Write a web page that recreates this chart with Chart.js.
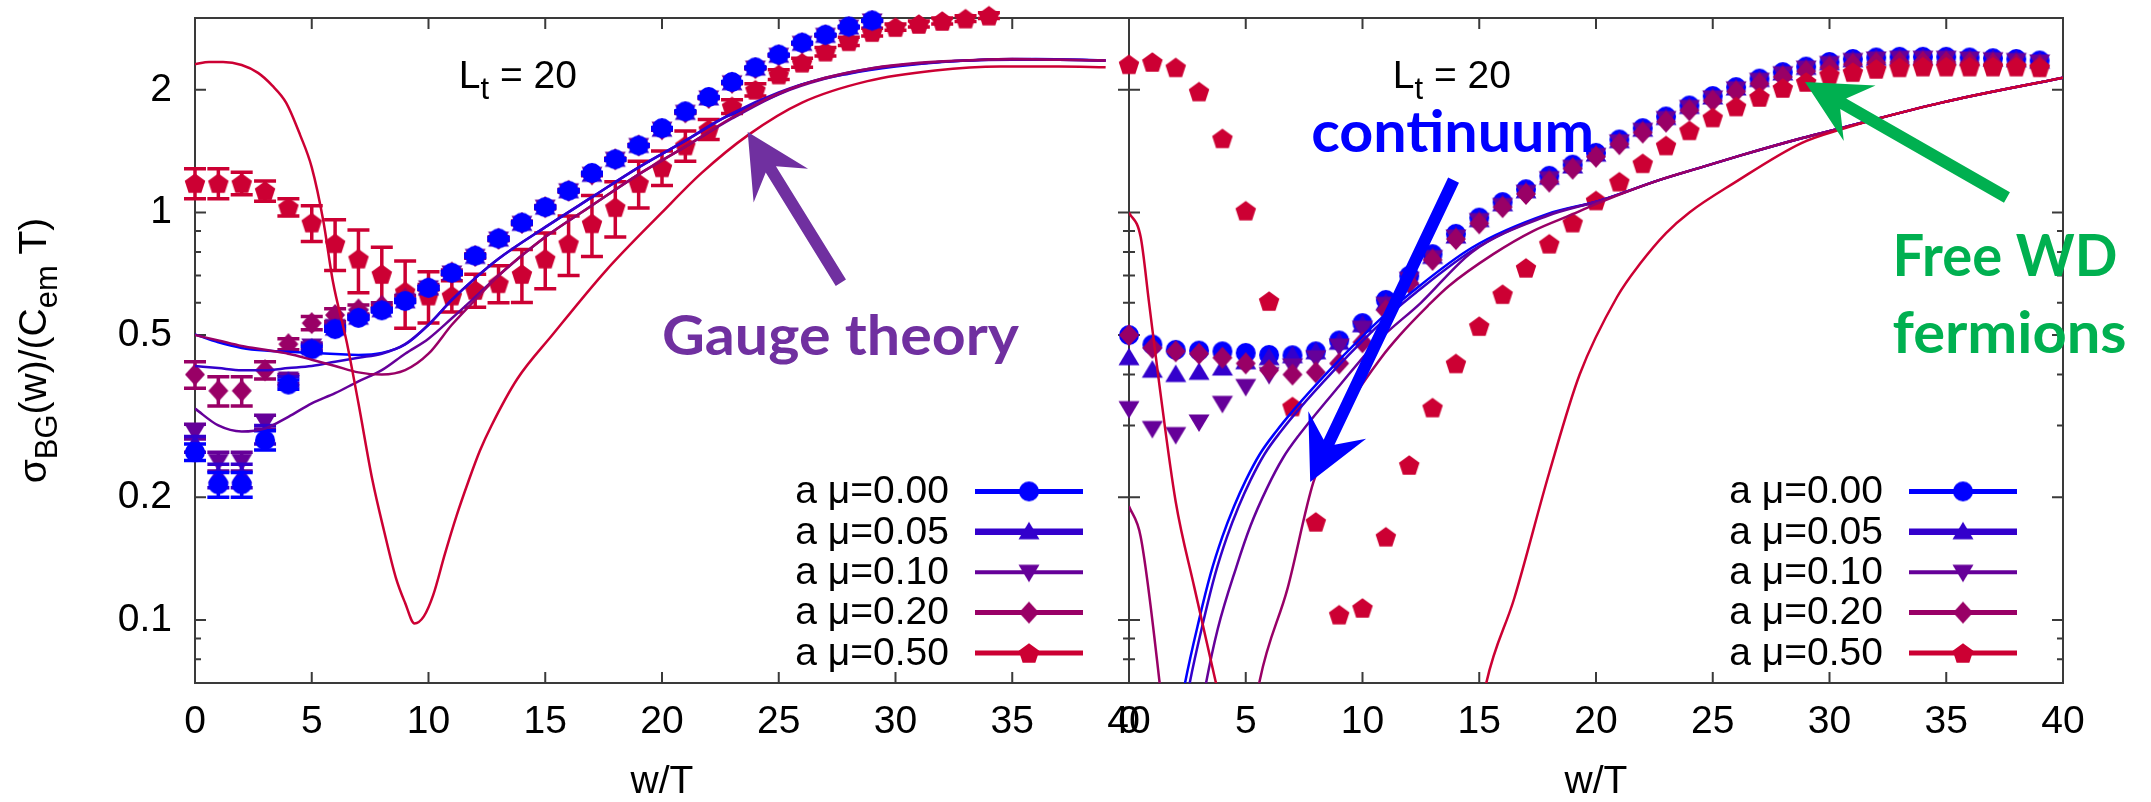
<!DOCTYPE html>
<html lang="en">
<head>
<meta charset="UTF-8">
<title>sigma_BG(w) - gauge theory vs free WD fermions</title>
<script src="https://cdn.jsdelivr.net/npm/chart.js"></script>
<style>
    body { margin: 0; background: #fff; }
    #marco { position: relative; width: 2151px; height: 802px; }
    #marco canvas { position: absolute; left: 0; top: 0; }
</style>
</head>
<body>
<div id="marco">
    <canvas id="izq" width="2151" height="802"></canvas>
    <canvas id="der" width="2151" height="802"></canvas>
</div>
<script>
// ---- series / etiquetas ----
const etiquetasMu = ['a \u03bc=0.00', 'a \u03bc=0.05', 'a \u03bc=0.10', 'a \u03bc=0.20', 'a \u03bc=0.50'];
const coloresMu = ['#0000ff', '#3300cc', '#660099', '#990066', '#cc0033'];
const formasMu = ['circulo', 'triArriba', 'triAbajo', 'rombo', 'pentagono'];

const ticksX = [0, 5, 10, 15, 20, 25, 30, 35, 40];
const ticksY = [0.07, 0.08, 0.09, 0.1, 0.2, 0.3, 0.4, 0.5, 0.6, 0.7, 0.8, 0.9, 1, 2];
const etiquetasY = [0.1, 0.2, 0.5, 1, 2];

// ---- panel izquierdo: teoria gauge (puntos con errores) ----
const wLat = [0,1,2,3,4,5,6,7,8,9,10,11,12,13,14,15,16,17,18,19,20,21,22,23,24,25,26,27,28,29];
const wLat50 = [0,1,2,3,4,5,6,7,8,9,10,11,12,13,14,15,16,17,18,19,20,21,22,23,24,25,26,27,28,29,30,31,32,33,34];

const latMu000 = [0.258,0.215,0.215,0.276,0.378,0.461,0.517,0.551,0.575,0.606,0.653,0.711,0.783,0.863,0.944,1.03,1.13,1.25,1.35,1.46,1.61,1.77,1.92,2.09,2.27,2.44,2.61,2.73,2.86,2.96];
const errMu000 = [0.012,0.015,0.015,0.015,0.01,0.008,0.006,0.005,0.005,0.005,0.005,0.005,0.005,0.005,0.005,0.005,0.005,0.005,0.005,0.005,0.005,0.005,0.005,0.005,0.005,0.005,0.005,0.005,0.005,0.005];
const latMu005 = [0.27,0.226,0.226,0.285,0.385,0.465,0.52,0.553,0.577,0.607,0.653,0.71,0.78,0.86,0.94,1.03,1.13,1.24,1.35,1.46,1.60,1.76,1.91,2.08,2.26,2.43,2.60,2.72,2.85,2.95];
const errMu005 = [0.012,0.015,0.015,0.015,0.01,0.008,0.006,0.005,0.005,0.005,0.005,0.005,0.005,0.005,0.005,0.005,0.005,0.005,0.005,0.005,0.005,0.005,0.005,0.005,0.005,0.005,0.005,0.005,0.005,0.005];
const latMu010 = [0.29,0.245,0.245,0.306,0.39,0.47,0.525,0.555,0.578,0.608,0.653,0.71,0.78,0.86,0.94,1.03,1.13,1.24,1.35,1.46,1.60,1.76,1.91,2.08,2.26,2.43,2.60,2.72,2.85,2.95];
const errMu010 = [0.012,0.013,0.013,0.012,0.01,0.008,0.006,0.005,0.005,0.005,0.005,0.005,0.005,0.005,0.005,0.005,0.005,0.005,0.005,0.005,0.005,0.005,0.005,0.005,0.005,0.005,0.005,0.005,0.005,0.005];
const latMu020 = [0.40,0.365,0.365,0.41,0.475,0.535,0.56,0.578,0.59,0.615,0.655,0.712,0.782,0.862,0.942,1.03,1.13,1.24,1.35,1.46,1.60,1.76,1.91,2.08,2.26,2.43,2.60,2.72,2.85,2.95];
const errMu020 = [0.03,0.03,0.03,0.02,0.015,0.02,0.02,0.015,0.01,0.01,0.01,0.01,0.01,0.01,0.01,0.01,0.01,0.01,0.01,0.01,0.01,0.01,0.01,0.01,0.01,0.01,0.01,0.01,0.01,0.01];
const latMu050 = [1.18,1.18,1.18,1.13,1.03,0.944,0.84,0.77,0.706,0.64,0.625,0.625,0.645,0.67,0.706,0.77,0.84,0.94,1.03,1.18,1.29,1.46,1.60,1.82,2.0,2.18,2.33,2.48,2.63,2.77,2.85,2.9,2.95,2.99,3.04];
const errMu050 = [0.10,0.10,0.075,0.065,0.05,0.095,0.12,0.135,0.115,0.12,0.09,0.055,0.06,0.07,0.105,0.12,0.14,0.16,0.16,0.155,0.125,0.125,0.09,0.07,0.07,0.06,0.06,0.06,0.06,0.06,0.05,0.05,0.05,0.05,0.05];

// curvas del panel izquierdo
const curvaIzqW000 = [0,1,2,3,4,5,6,7,8,9,10,11,12,13,15,17,19,21,22.5,24,26,28,30,32,34,36,38,39];
const curvaIzqV000 = [0.502,0.48,0.465,0.458,0.455,0.452,0.449,0.447,0.452,0.474,0.53,0.61,0.69,0.77,0.92,1.09,1.29,1.50,1.69,1.84,2.06,2.19,2.28,2.34,2.37,2.38,2.37,2.36];
const curvaIzqW = [0,1,2,3,4,5,6,7,8,9,10,11,12,13,15,17,19,21,23,25,27,29,31,33,35,37,39];
const curvaIzqV005 = [0.42,0.415,0.41,0.41,0.415,0.42,0.43,0.44,0.45,0.475,0.53,0.61,0.69,0.77,0.92,1.09,1.29,1.50,1.75,1.97,2.14,2.26,2.32,2.36,2.38,2.37,2.36];
const curvaIzqV010 = [0.33,0.30,0.29,0.295,0.315,0.34,0.36,0.385,0.41,0.45,0.49,0.55,0.62,0.70,0.87,1.04,1.24,1.45,1.70,1.95,2.13,2.25,2.32,2.36,2.37,2.37,2.36];
const curvaIzqV020 = [0.50,0.485,0.47,0.46,0.45,0.435,0.42,0.405,0.40,0.41,0.45,0.53,0.61,0.70,0.87,1.04,1.24,1.45,1.71,1.96,2.14,2.26,2.33,2.36,2.38,2.37,2.36];
const curvaIzqW050 = [0,0.6,1.2,2,2.7,3.3,3.9,4.5,5,5.5,5.9,6.5,7,7.6,8.1,8.6,9,9.4,9.8,10.2,10.7,11.2,11.7,12.2,12.7,13.8,15.3,17.6,20,21.7,23.7,26,28.8,31.7,34.5,37,39];
const curvaIzqV050 = [2.31,2.34,2.34,2.3,2.2,2.05,1.86,1.55,1.29,0.95,0.68,0.48,0.34,0.22,0.165,0.127,0.11,0.098,0.102,0.115,0.145,0.18,0.218,0.26,0.30,0.39,0.50,0.72,1.0,1.25,1.55,1.86,2.1,2.23,2.28,2.28,2.27];

// ---- panel derecho: fermiones WD libres ----
const wLib = [0,1,2,3,4,5,6,7,8,9,10,11,12,13,14,15,16,17,18,19,20,21,22,23,24,25,26,27,28,29,30,31,32,33,34,35,36,37,38,39];
const libMu000 = [0.50,0.474,0.46,0.458,0.456,0.452,0.447,0.446,0.456,0.485,0.535,0.61,0.699,0.79,0.886,0.971,1.06,1.14,1.23,1.31,1.40,1.51,1.61,1.72,1.83,1.93,2.03,2.13,2.21,2.28,2.34,2.38,2.40,2.41,2.41,2.41,2.40,2.39,2.38,2.36];
const libMu005 = [0.44,0.41,0.40,0.405,0.415,0.43,0.44,0.445,0.455,0.48,0.53,0.60,0.69,0.78,0.875,0.96,1.05,1.13,1.22,1.30,1.39,1.50,1.60,1.71,1.82,1.92,2.02,2.12,2.20,2.27,2.33,2.37,2.39,2.40,2.40,2.40,2.39,2.38,2.37,2.35];
const libMu010 = [0.33,0.295,0.285,0.306,0.34,0.374,0.40,0.42,0.44,0.47,0.52,0.595,0.685,0.775,0.87,0.955,1.04,1.12,1.21,1.29,1.38,1.49,1.59,1.70,1.81,1.91,2.01,2.11,2.19,2.26,2.32,2.36,2.38,2.39,2.39,2.39,2.38,2.37,2.36,2.34];
const libMu020 = [0.50,0.465,0.456,0.45,0.44,0.426,0.41,0.40,0.405,0.426,0.48,0.575,0.67,0.765,0.86,0.94,1.03,1.11,1.19,1.28,1.37,1.47,1.57,1.67,1.78,1.88,1.98,2.07,2.15,2.22,2.27,2.31,2.33,2.34,2.34,2.34,2.33,2.32,2.31,2.29];
const libMu050 = [2.31,2.34,2.27,1.98,1.52,1.01,0.606,0.334,0.174,0.103,0.107,0.16,0.24,0.332,0.426,0.526,0.63,0.731,0.838,0.944,1.07,1.19,1.32,1.46,1.59,1.71,1.82,1.92,2.02,2.09,2.18,2.21,2.25,2.27,2.28,2.28,2.28,2.28,2.28,2.27];

// curvas del panel derecho (null = la curva sale del rango)
const curvaDerW000 = [2.2,2.4,3.0,3.5,4.0,4.5,5.0,5.6,6.3,7.1,8.5,9.9,11.1,12,14.7,17.9,20.2,22.7,24.5,26.2,28.8,30.5,34.8,40];
const curvaDerV000 = [0.06,0.07,0.1,0.13,0.16,0.19,0.22,0.255,0.29,0.33,0.405,0.49,0.57,0.63,0.82,0.99,1.07,1.2,1.29,1.38,1.52,1.61,1.86,2.14];
const curvaDerW005 = [2.4,2.6,3.2,3.7,4.2,4.7,5.2,5.8,6.5,7.3,8.7,10.1,11.3,12.2,14.9,18,20.2,22.7,24.5,26.2,28.8,30.5,34.8,40];
const curvaDerV005 = [0.06,0.07,0.1,0.13,0.16,0.19,0.22,0.255,0.29,0.33,0.405,0.49,0.57,0.63,0.82,0.99,1.07,1.2,1.29,1.38,1.52,1.61,1.86,2.14];
const curvaDerW010 = [3.1,3.3,3.8,4.6,5.2,5.9,6.6,7.3,9.0,10.6,12.5,14.7,17.9,20.2,22.7,24.5,26.2,28.8,30.5,34.8,40];
const curvaDerV010 = [0.06,0.07,0.095,0.135,0.17,0.21,0.25,0.285,0.375,0.48,0.6,0.8,0.98,1.07,1.2,1.29,1.38,1.52,1.61,1.86,2.14];
const curvaDerW020 = [0,0.5,1.3,1.5,3,5.4,5.6,6.8,7.9,9.2,10.8,11.6,12.8,13.7,15.6,17.3,19,20.2,22.7,24.5,26.2,28.8,30.5,34.8,40];
const curvaDerV020 = [0.19,0.16,0.071,0.055,null,0.06,0.071,0.12,0.218,0.32,0.44,0.50,0.59,0.66,0.79,0.90,0.99,1.06,1.2,1.29,1.38,1.52,1.61,1.86,2.14];
const curvaDerW050 = [0,0.5,0.85,1.3,2.0,2.8,3.7,4.0,9,15.1,15.3,16.5,18,19.3,20.9,21.9,23,24,25.9,28.8,30.5,34.8,40];
const curvaDerV050 = [1.0,0.87,0.606,0.378,0.195,0.12,0.071,0.06,null,0.06,0.07,0.113,0.23,0.4,0.62,0.75,0.89,1.0,1.18,1.48,1.6,1.86,2.14];

// ---- estilo ----
const FAM = '"Liberation Sans", Arial, sans-serif';
const FAM_NOTA = 'Lato, "Open Sans", sans-serif';
const grosorLeyenda = [5, 6.5, 4, 5, 5];

// marcadores dibujados en un canvas pequeño
function marcador(forma, color) {
    const c = document.createElement('canvas');
    c.width = 26; c.height = 26;
    const g = c.getContext('2d');
    g.translate(13, 13);
    g.fillStyle = color;
    g.beginPath();
    if (forma === 'circulo') {
        g.arc(0, 0, 10, 0, Math.PI * 2);
    } else if (forma === 'triArriba') {
        g.moveTo(0, -10); g.lineTo(10.5, 7.5); g.lineTo(-10.5, 7.5);
    } else if (forma === 'triAbajo') {
        g.moveTo(0, 10); g.lineTo(10.5, -7.5); g.lineTo(-10.5, -7.5);
    } else if (forma === 'rombo') {
        g.moveTo(0, -11); g.lineTo(10, 0); g.lineTo(0, 11); g.lineTo(-10, 0);
    } else {
        for (let k = 0; k < 5; k++) {
            const a = -Math.PI / 2 + k * 2 * Math.PI / 5;
            const px = 10.8 * Math.cos(a), py = 10.8 * Math.sin(a) + 1;
            if (k === 0) g.moveTo(px, py); else g.lineTo(px, py);
        }
    }
    g.closePath();
    g.fill();
    return c;
}
const marcadores = formasMu.map((f, i) => marcador(f, coloresMu[i]));

function serie(i, ws, vs, errs, orden) {
    return {
        label: etiquetasMu[i],
        data: ws.map((w, k) => ({x: w, y: vs[k]})),
        errores: errs,
        pointStyle: marcadores[i],
        pointRadius: 10,
        pointHoverRadius: 10,
        backgroundColor: coloresMu[i],
        borderColor: coloresMu[i],
        showLine: false,
        clip: false,
        order: orden
    };
}
function curva(i, ws, vs) {
    return {
        label: '',
        data: ws.map((w, k) => ({x: w, y: vs[k]})),
        borderColor: coloresMu[i],
        borderWidth: 2.5,
        pointRadius: 0,
        showLine: true,
        spanGaps: false,
        cubicInterpolationMode: 'monotone',
        order: 0
    };
}

// ---- dibujo de texto con subindices ----
function textoRico(ctx, partes, x, y, centrado) {
    const fPrin = '39px ' + FAM, fSub = '31px ' + FAM;
    let total = 0;
    partes.forEach(p => { ctx.font = p.sub ? fSub : fPrin; total += ctx.measureText(p.t).width; });
    let cx = centrado ? x - total / 2 : x;
    ctx.textAlign = 'left';
    ctx.textBaseline = 'alphabetic';
    partes.forEach(p => {
        ctx.font = p.sub ? fSub : fPrin;
        ctx.fillText(p.t, cx, p.sub ? y + 11 : y);
        cx += ctx.measureText(p.t).width;
    });
}

function flecha(ctx, x0, y0, x1, y1, color) {
    const dx = x1 - x0, dy = y1 - y0, L = Math.hypot(dx, dy);
    const ux = dx / L, uy = dy / L, nx = -uy, ny = ux;
    const cabeza = 63, ala = 32, muesca = 44, med = 6;
    const bx = x1 - ux * cabeza, by = y1 - uy * cabeza;
    const mx = x1 - ux * muesca, my = y1 - uy * muesca;
    ctx.fillStyle = color;
    ctx.beginPath();
    ctx.moveTo(x0 + nx * med, y0 + ny * med);
    ctx.lineTo(mx + nx * med, my + ny * med);
    ctx.lineTo(bx + nx * ala, by + ny * ala);
    ctx.lineTo(x1, y1);
    ctx.lineTo(bx - nx * ala, by - ny * ala);
    ctx.lineTo(mx - nx * med, my - ny * med);
    ctx.lineTo(x0 - nx * med, y0 - ny * med);
    ctx.closePath();
    ctx.fill();
}

// ---- plugin: marco gnuplot, barras de error, leyenda, anotaciones ----
const deco = {
    id: 'deco',
    beforeDatasetsDraw(chart) {
        const ctx = chart.ctx, xs = chart.scales.x, ys = chart.scales.y;
        const {left, right, top, bottom} = chart.chartArea;
        ctx.save();
        ctx.strokeStyle = '#3a3a3a';
        ctx.lineWidth = 2;
        ctx.strokeRect(left, top, right - left, bottom - top);
        ctx.beginPath();
        ticksX.forEach(v => {
            const px = xs.getPixelForValue(v);
            ctx.moveTo(px, bottom); ctx.lineTo(px, bottom - 11);
            ctx.moveTo(px, top); ctx.lineTo(px, top + 11);
        });
        ticksY.forEach(v => {
            const py = ys.getPixelForValue(v);
            const l = etiquetasY.includes(v) ? 11 : 6;
            ctx.moveTo(left, py); ctx.lineTo(left + l, py);
            ctx.moveTo(right, py); ctx.lineTo(right - l, py);
        });
        ctx.stroke();
        ctx.restore();
    },
    beforeDatasetDraw(chart, args) {
        const ds = chart.data.datasets[args.index];
        if (!ds.errores) return;
        const ctx = chart.ctx, xs = chart.scales.x, ys = chart.scales.y;
        ctx.save();
        ctx.strokeStyle = ds.borderColor;
        ctx.lineWidth = 3.5;
        ctx.beginPath();
        ds.data.forEach((p, k) => {
            const e = ds.errores[k];
            const px = xs.getPixelForValue(p.x);
            const ya = ys.getPixelForValue(p.y + e), yb = ys.getPixelForValue(p.y - e);
            ctx.moveTo(px, ya); ctx.lineTo(px, yb);
            ctx.moveTo(px - 11, ya); ctx.lineTo(px + 11, ya);
            ctx.moveTo(px - 11, yb); ctx.lineTo(px + 11, yb);
        });
        ctx.stroke();
        ctx.restore();
    },
    afterDraw(chart, args, o) {
        const ctx = chart.ctx, xs = chart.scales.x, ys = chart.scales.y;
        const {right, bottom, top} = chart.chartArea;
        ctx.save();
        // leyenda
        etiquetasMu.forEach((txt, i) => {
            const y = bottom - 30 - (4 - i) * 40.4;
            ctx.font = '39px ' + FAM;
            ctx.fillStyle = '#000';
            ctx.textAlign = 'right';
            ctx.textBaseline = 'middle';
            ctx.fillText(txt, right - 180, y + 1);
            ctx.strokeStyle = coloresMu[i];
            ctx.lineWidth = grosorLeyenda[i];
            ctx.beginPath(); ctx.moveTo(right - 154, y); ctx.lineTo(right - 46, y); ctx.stroke();
            const m = marcadores[i];
            ctx.drawImage(m, right - 100 - m.width / 2, y - m.height / 2);
        });
        // L_t = 20
        ctx.fillStyle = '#000';
        textoRico(ctx, [{t: 'L'}, {t: 't', sub: true}, {t: ' = 20'}], xs.getPixelForValue(11.3), ys.getPixelForValue(2.02), false);
        // titulo del eje y (solo panel izquierdo)
        if (o.ejeY) {
            ctx.save();
            ctx.translate(46, (top + bottom) / 2);
            ctx.rotate(-Math.PI / 2);
            textoRico(ctx, [{t: '\u03c3'}, {t: 'BG', sub: true}, {t: '(w)/(C'}, {t: 'em', sub: true}, {t: ' T)'}], 0, 0, true);
            ctx.restore();
        }
        // anotaciones
        (o.notas || []).forEach(n => {
            ctx.font = 'bold ' + n.tam + 'px ' + FAM_NOTA;
            ctx.textAlign = 'left';
            ctx.textBaseline = 'alphabetic';
            const w0 = ctx.measureText(n.texto).width;
            ctx.save();
            ctx.translate(xs.getPixelForValue(n.w), ys.getPixelForValue(n.v));
            ctx.scale(n.ancho / w0, 1);
            ctx.fillStyle = n.color;
            ctx.fillText(n.texto, 0, 0);
            ctx.restore();
        });
        (o.flechas || []).forEach(f => {
            flecha(ctx, xs.getPixelForValue(f.desde[0]), ys.getPixelForValue(f.desde[1]),
                xs.getPixelForValue(f.hasta[0]), ys.getPixelForValue(f.hasta[1]), f.color);
        });
        ctx.restore();
    }
};

function ejeX() {
    return {
        type: 'linear', position: 'bottom', min: 0, max: 40,
        grid: {display: false, drawTicks: false},
        border: {display: false},
        afterBuildTicks: s => { s.ticks = ticksX.map(v => ({value: v})); },
        afterFit: s => { s.height = 119; s.paddingLeft = 0; s.paddingRight = 0; },
        ticks: {autoSkip: false, maxRotation: 0, padding: 16, color: '#000',
            font: {family: FAM, size: 39}, callback: v => String(v)},
        title: {display: true, text: 'w/T', color: '#000',
            font: {family: FAM, size: 39, lineHeight: 1}, padding: {top: 0, bottom: 0}}
    };
}

// ---- grafica izquierda ----
new Chart(document.getElementById('izq'), {
    type: 'scatter',
    data: {
        datasets: [
            curva(4, curvaIzqW050, curvaIzqV050),
            curva(3, curvaIzqW, curvaIzqV020),
            curva(2, curvaIzqW, curvaIzqV010),
            curva(1, curvaIzqW, curvaIzqV005),
            curva(0, curvaIzqW000, curvaIzqV000),
            serie(0, wLat, latMu000, errMu000, 1),
            serie(1, wLat, latMu005, errMu005, 2),
            serie(2, wLat, latMu010, errMu010, 3),
            serie(3, wLat, latMu020, errMu020, 4),
            serie(4, wLat50, latMu050, errMu050, 5)
        ]
    },
    options: {
        responsive: false,
        animation: false,
        layout: {padding: {left: 0, top: 18, right: 1022, bottom: 0}},
        plugins: {
            legend: {display: false},
            tooltip: {enabled: false},
            deco: {
                ejeY: true,
                notas: [{texto: 'Gauge theory', w: 20.0, v: 0.448, color: '#7030a0', tam: 56, ancho: 357}],
                flechas: [{desde: [27.66, 0.672], hasta: [23.67, 1.575], color: '#7030a0'}]
            }
        },
        scales: {
            x: ejeX(),
            y: {
                type: 'logarithmic', position: 'left', min: 0.07, max: 3.0,
                grid: {display: false, drawTicks: false},
                border: {display: false},
                afterBuildTicks: s => { s.ticks = ticksY.map(v => ({value: v})); },
                afterFit: s => { s.width = 195; s.paddingTop = 0; s.paddingBottom = 0; },
                ticks: {autoSkip: false, padding: 23, color: '#000', font: {family: FAM, size: 39},
                    callback: v => etiquetasY.includes(v) ? String(v) : ''}
            }
        }
    },
    plugins: [deco]
});

// ---- grafica derecha ----
new Chart(document.getElementById('der'), {
    type: 'scatter',
    data: {
        datasets: [
            curva(4, curvaDerW050, curvaDerV050),
            curva(3, curvaDerW020, curvaDerV020),
            curva(2, curvaDerW010, curvaDerV010),
            curva(1, curvaDerW005, curvaDerV005),
            curva(0, curvaDerW000, curvaDerV000),
            serie(4, wLib, libMu050, null, 1),
            serie(3, wLib, libMu020, null, 2),
            serie(2, wLib, libMu010, null, 3),
            serie(1, wLib, libMu005, null, 4),
            serie(0, wLib, libMu000, null, 5)
        ]
    },
    options: {
        responsive: false,
        animation: false,
        layout: {padding: {left: 1129, top: 18, right: 88, bottom: 0}},
        plugins: {
            legend: {display: false},
            tooltip: {enabled: false},
            deco: {
                ejeY: false,
                notas: [
                    {texto: 'continuum', w: 7.8, v: 1.41, color: '#0000ff', tam: 58, ancho: 283},
                    {texto: 'Free WD', w: 32.7, v: 0.698, color: '#00b050', tam: 58, ancho: 225},
                    {texto: 'fermions', w: 32.7, v: 0.451, color: '#00b050', tam: 58, ancho: 234}
                ],
                flechas: [
                    {desde: [13.9, 1.2], hasta: [7.76, 0.218], color: '#0000ff'},
                    {desde: [37.6, 1.088], hasta: [28.95, 2.09], color: '#00b050'}
                ]
            }
        },
        scales: {
            x: ejeX(),
            y: {type: 'logarithmic', display: false, min: 0.07, max: 3.0}
        }
    },
    plugins: [deco]
});
</script>
</body>
</html>
